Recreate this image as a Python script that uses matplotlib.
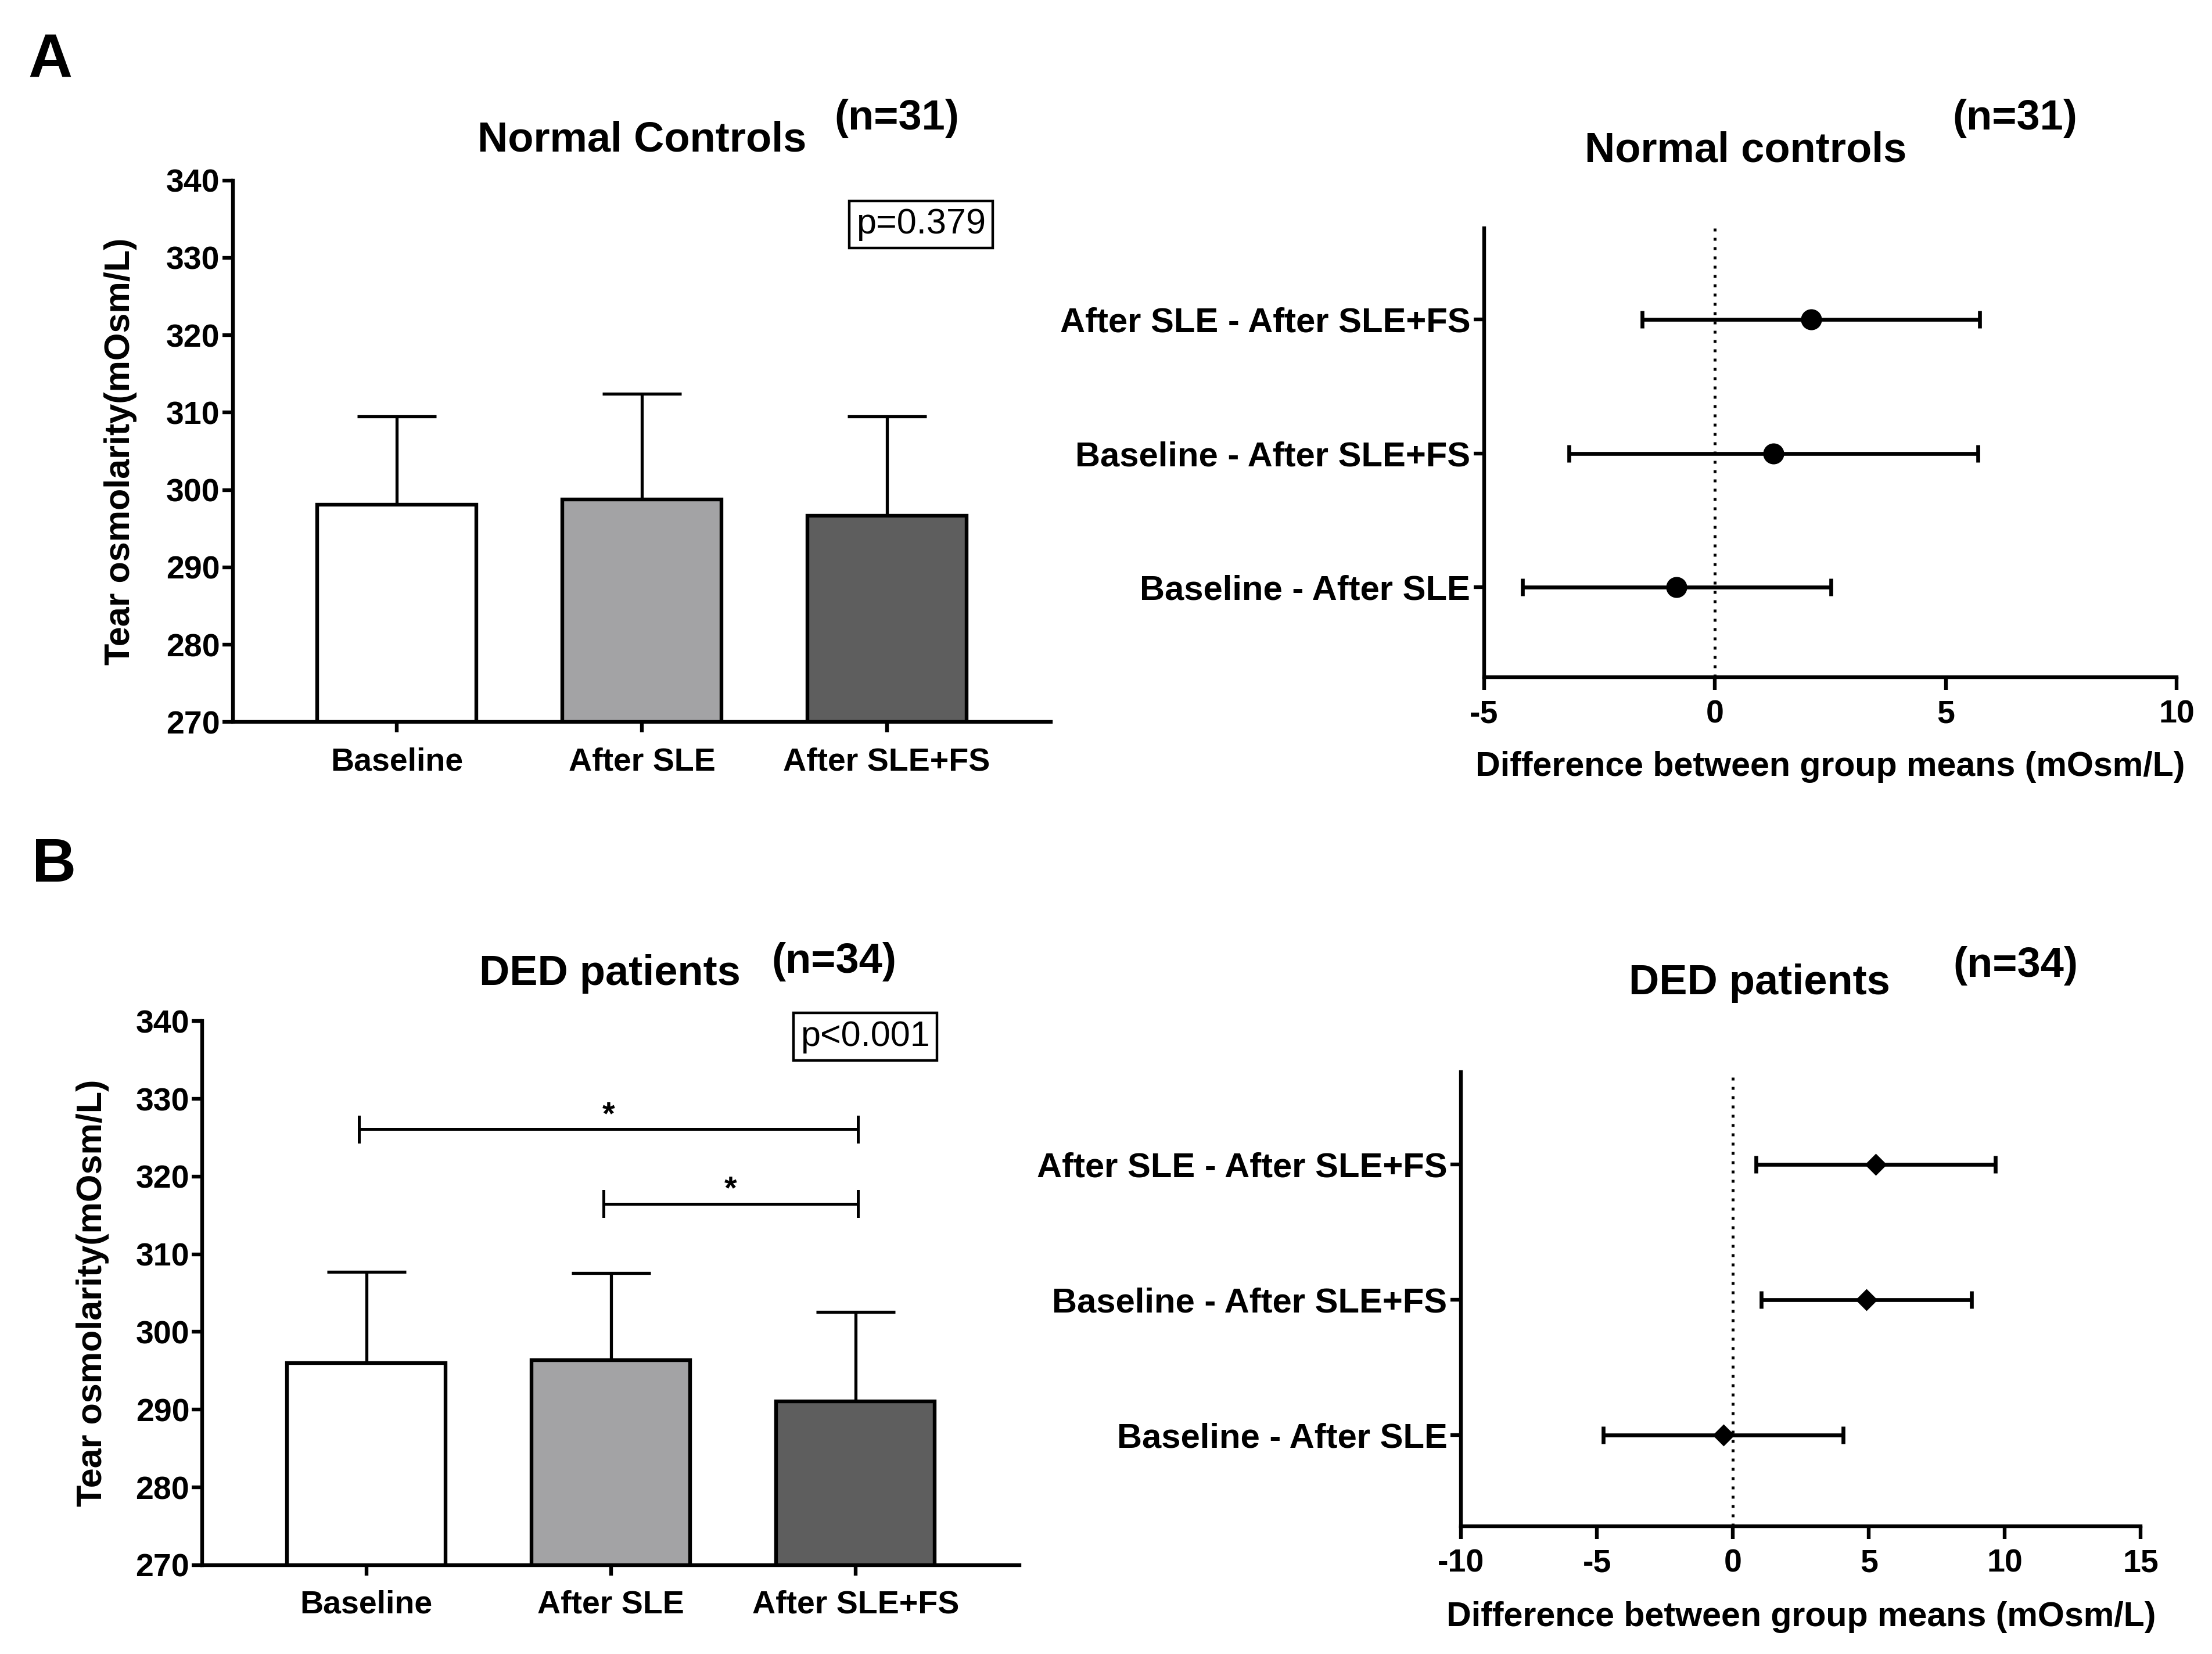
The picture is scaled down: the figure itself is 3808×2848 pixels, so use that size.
import matplotlib
matplotlib.use("Agg")
import matplotlib.pyplot as plt

plt.rcParams['font.family'] = ['Liberation Sans', 'DejaVu Sans']
plt.rcParams['font.weight'] = 'bold'
plt.rcParams['axes.unicode_minus'] = False

# Bar chart data (mean + SD)
groups = ['Baseline', 'After SLE', 'After SLE+FS']
bar_colors = ['#ffffff', '#a3a3a5', '#5e5e5e']
nc_mean = [298.1, 298.8, 296.7]
nc_sd = [11.4, 13.6, 12.8]
ded_mean = [296.0, 296.4, 291.1]
ded_sd = [11.7, 11.2, 11.5]

# Forest plot data (difference between means, 95% CI), bottom row first
comparisons = ['Baseline - After SLE', 'Baseline - After SLE+FS', 'After SLE - After SLE+FS']
nc_diff = [-0.83, 1.27, 2.08]
nc_lo = [-4.17, -3.16, -1.57]
nc_hi = [2.51, 5.70, 5.74]
ded_diff = [-0.35, 4.90, 5.26]
ded_lo = [-4.76, 1.04, 0.84]
ded_hi = [4.06, 8.77, 9.66]

# significance brackets for DED patients: (from group, to group, level)
ded_brackets = [(0, 2, 326.1), (1, 2, 316.5)]

LW = 2.3

fig = plt.figure(figsize=(19.04, 14.24), dpi=200)


def bar_panel(rect, means, sds, title, n_text, title_pos, n_pos, ptext, ppos, ylabel_x):
    ax = fig.add_axes(rect)
    x = list(range(len(groups)))
    ax.errorbar(x, means, yerr=[[0] * len(sds), sds], fmt='none', ecolor='black',
                elinewidth=1.9, capsize=24.5, capthick=1.9, zorder=1)
    ax.bar(x, means, width=0.65, bottom=0, color=bar_colors, edgecolor='black',
           linewidth=LW, zorder=2)
    ax.set_ylim(270, 340)
    ax.set_xlim(-0.67, 2.67)
    ax.set_yticks(range(270, 341, 10))
    ax.set_xticks(x)
    ax.set_xticklabels(groups)
    for s in ['top', 'right']:
        ax.spines[s].set_visible(False)
    for s in ['left', 'bottom']:
        ax.spines[s].set_linewidth(LW)
    ax.tick_params(axis='y', length=6.5, width=LW, pad=1.5, labelsize=20)
    ax.tick_params(axis='x', length=6.5, width=LW, pad=9, labelsize=20)
    ax.set_ylabel('Tear osmolarity(mOsm/L)', fontsize=22, fontweight='bold')
    ax.yaxis.set_label_coords(ylabel_x, 0.5)
    ax.text(ppos[0], ppos[1], ptext, ha='center', va='center', fontsize=22,
            fontweight='normal', clip_on=False,
            bbox=dict(boxstyle='square,pad=0.2', fc='white', ec='black', lw=1.6))
    fig.text(title_pos[0], title_pos[1], title, ha='center', va='baseline',
             fontsize=26, fontweight='bold')
    fig.text(n_pos[0], n_pos[1], n_text, ha='center', va='baseline',
             fontsize=26, fontweight='bold')
    return ax


def forest_panel(rect, diff, lo, hi, marker, msize, xlim, xticks, title, n_text,
                 title_pos, n_pos):
    ax = fig.add_axes(rect)
    y = list(range(len(comparisons)))
    err = [[d - l for d, l in zip(diff, lo)], [h - d for d, h in zip(diff, hi)]]
    ax.axvline(0, color='black', linewidth=1.8, dashes=(1, 2.2), zorder=1)
    ax.errorbar(diff, y, xerr=err, fmt=marker, color='black', markersize=msize,
                elinewidth=2.4, capsize=5.5, capthick=2.4, zorder=3)
    ax.set_xlim(*xlim)
    ax.set_ylim(-0.67, 2.68)
    ax.set_xticks(xticks)
    ax.set_yticks(y)
    ax.set_yticklabels(comparisons)
    for s in ['top', 'right']:
        ax.spines[s].set_visible(False)
    for s in ['left', 'bottom']:
        ax.spines[s].set_linewidth(LW)
    ax.tick_params(axis='y', length=6.5, width=LW, pad=2, labelsize=21.5)
    ax.tick_params(axis='x', length=8, width=LW, pad=6, labelsize=20)
    ax.set_xlabel('Difference between group means (mOsm/L)', fontsize=21.3,
                  fontweight='bold')
    ax.xaxis.set_label_coords(0.5, -0.165)
    fig.text(title_pos[0], title_pos[1], title, ha='center', va='baseline',
             fontsize=26, fontweight='bold')
    fig.text(n_pos[0], n_pos[1], n_text, ha='center', va='baseline',
             fontsize=26, fontweight='bold')
    return ax


# Panel A
fig.text(0.0128, 0.953, 'A', fontsize=38, fontweight='bold', va='baseline')
bar_panel([0.1052, 0.5634, 0.3699, 0.3275], nc_mean, nc_sd, 'Normal Controls',
          '(n=31)', (0.2902, 0.9084), (0.4053, 0.9216), 'p=0.379', (2.14, 334.3), -0.117)
forest_panel([0.6709, 0.5907, 0.3131, 0.2712], nc_diff, nc_lo, nc_hi, 'o', 12,
             (-5, 10), [-5, 0, 5, 10], 'Normal controls', '(n=31)',
             (0.7892, 0.9022), (0.911, 0.9216))

# Panel B
fig.text(0.0144, 0.4669, 'B', fontsize=38, fontweight='bold', va='baseline')
axb = bar_panel([0.0915, 0.0538, 0.3693, 0.3288], ded_mean, ded_sd, 'DED patients',
                '(n=34)', (0.2758, 0.4046), (0.377, 0.4118), 'p<0.001', (2.04, 338.0), -0.114)
for g0, g1, level in ded_brackets:
    x0, x1 = g0 - 0.03, g1 + 0.01
    axb.plot([x0, x1], [level, level], color='black', linewidth=1.8, zorder=3)
    axb.plot([x0, x0], [level - 1.6, level + 1.6], color='black', linewidth=1.8, zorder=3)
    axb.plot([x1, x1], [level - 1.6, level + 1.6], color='black', linewidth=1.8, zorder=3)
    axb.text((x0 + x1) / 2, level + 0.7, '*', ha='center', va='baseline', fontsize=20,
             fontweight='bold')
forest_panel([0.6605, 0.0773, 0.3073, 0.2746], ded_diff, ded_lo, ded_hi, 'D', 8.5,
             (-10, 15), [-10, -5, 0, 5, 10, 15], 'DED patients', '(n=34)',
             (0.7953, 0.3988), (0.9113, 0.4095))

fig.savefig('out.png', dpi=200)
